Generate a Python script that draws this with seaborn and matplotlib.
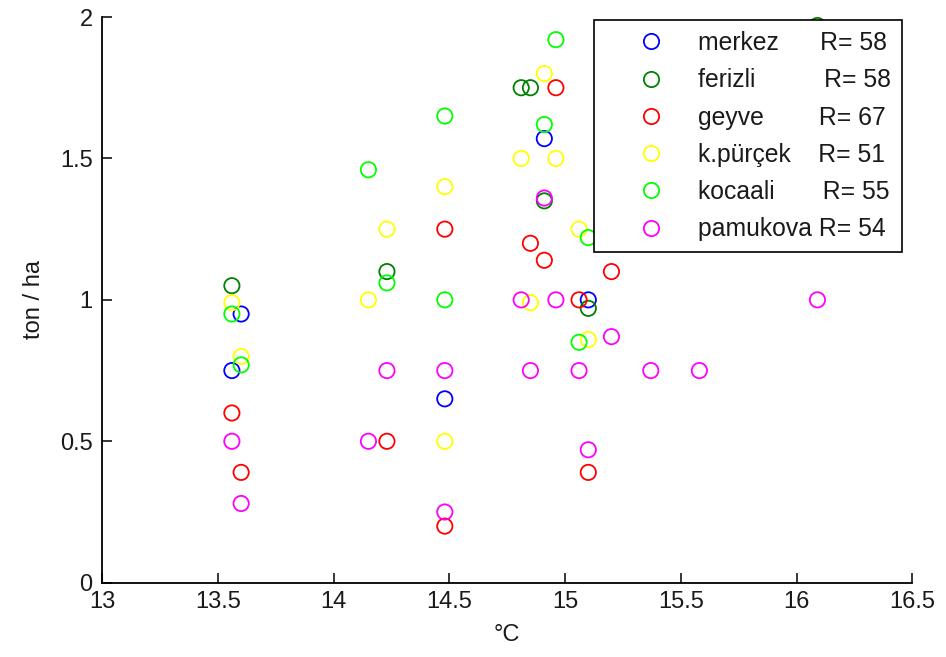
import matplotlib
matplotlib.use("Agg")
import matplotlib.pyplot as plt
from matplotlib.lines import Line2D
from matplotlib import font_manager
import numpy as np
import pandas as pd
import seaborn as sns

# Stations, their correlation coefficients and marker colours
stations = ["merkez", "ferizli", "geyve", "k.pürçek", "kocaali", "pamukova"]
r_values = [58, 58, 67, 51, 55, 54]
colors = ["#0000ff", "#008000", "#ff0000", "#ffff00", "#00ff00", "#ff00ff"]

# Mean temperature (°C) and yield (ton / ha) per station
merkez_temp = [13.6, 13.56, 14.48, 14.91, 15.1]
merkez_yield = [0.95, 0.75, 0.65, 1.57, 1.0]

ferizli_temp = [13.56, 14.23, 14.81, 14.85, 14.91, 15.1, 16.09]
ferizli_yield = [1.05, 1.1, 1.75, 1.75, 1.35, 0.97, 1.97]

geyve_temp = [13.56, 13.6, 14.23, 14.48, 14.48, 14.96, 14.85, 14.91, 15.2, 15.06, 15.1]
geyve_yield = [0.6, 0.39, 0.5, 1.25, 0.2, 1.75, 1.2, 1.14, 1.1, 1.0, 0.39]

kpurcek_temp = [13.56, 13.6, 14.15, 14.23, 14.48, 14.48, 14.91, 14.81, 14.96, 15.06, 14.85, 15.1]
kpurcek_yield = [0.99, 0.8, 1.0, 1.25, 1.4, 0.5, 1.8, 1.5, 1.5, 1.25, 0.99, 0.86]

kocaali_temp = [13.56, 13.6, 14.15, 14.23, 14.48, 14.48, 14.96, 14.91, 15.1, 15.06]
kocaali_yield = [0.95, 0.77, 1.46, 1.06, 1.65, 1.0, 1.92, 1.62, 1.22, 0.85]

pamukova_temp = [13.56, 13.6, 14.15, 14.23, 14.48, 14.48, 14.91, 14.81, 14.96, 14.85,
                 15.06, 15.2, 15.1, 15.37, 15.58, 16.09]
pamukova_yield = [0.5, 0.28, 0.5, 0.75, 0.75, 0.25, 1.36, 1.0, 1.0, 0.75,
                  0.75, 0.87, 0.47, 0.75, 0.75, 1.0]

x_ticks = [13, 13.5, 14, 14.5, 15, 15.5, 16, 16.5]
y_ticks = [0, 0.5, 1, 1.5, 2]

series = [
    (merkez_temp, merkez_yield),
    (ferizli_temp, ferizli_yield),
    (geyve_temp, geyve_yield),
    (kpurcek_temp, kpurcek_yield),
    (kocaali_temp, kocaali_yield),
    (pamukova_temp, pamukova_yield),
]

frames = []
for name, (t, y) in zip(stations, series):
    frames.append(pd.DataFrame({"temp": t, "yield": y, "station": name}))
df = pd.concat(frames, ignore_index=True)

sns.set_theme(style="white")
installed = {f.name for f in font_manager.fontManager.ttflist}
family = "Liberation Sans" if "Liberation Sans" in installed else "DejaVu Sans"
plt.rcParams["font.family"] = [family, "DejaVu Sans"]

FS = 17
LEG_FS = 17.8
ink = "#1a1a1a"

fig = plt.figure(figsize=(9.46, 6.57), dpi=100)
ax = fig.add_axes([0.1081, 0.1131, 0.8563, 0.8610])

palette = dict(zip(stations, colors))
sns.scatterplot(data=df, x="temp", y="yield", hue="station",
                hue_order=stations, palette=palette, marker="o",
                s=121, linewidth=1.3, legend=False, ax=ax, zorder=3)
# hollow circles: move the hue colours onto the edges
coll = ax.collections[0]
coll.set_edgecolors(coll.get_facecolors())
coll.set_facecolors("none")
coll.set_clip_on(False)

ax.set_xlim(13, 16.5)
ax.set_ylim(0, 2)
ax.set_xticks(x_ticks)
ax.set_xticklabels([f"{v:g}" for v in x_ticks])
ax.set_yticks(y_ticks)
ax.set_yticklabels([f"{v:g}" for v in y_ticks])

for side in ["top", "right"]:
    ax.spines[side].set_visible(False)
for side in ["left", "bottom"]:
    ax.spines[side].set_color("black")
    ax.spines[side].set_linewidth(1.3)

ax.tick_params(axis="both", direction="in", length=7, width=1.1,
               color="black", labelsize=FS, labelcolor=ink,
               bottom=True, left=True)
ax.tick_params(axis="x", pad=6)
ax.tick_params(axis="y", pad=7)

ax.set_xlabel("°C", fontsize=FS, color=ink, labelpad=8)
ax.set_ylabel("ton / ha", fontsize=FS, color=ink, labelpad=11)

# Legend labels: station name padded so the "R=" column lines up
fig.canvas.draw()
renderer = fig.canvas.get_renderer()


def text_width(s):
    t = ax.text(0, 0, s, fontsize=LEG_FS)
    w = t.get_window_extent(renderer).width
    t.remove()
    return w


target = 123.0
labels = []
for name, r in zip(stations, r_values):
    best, best_err = name + " ", 1e9
    for n in range(1, 40):
        cand = name + " " * n
        err = abs(text_width(cand) - target)
        if err < best_err:
            best, best_err = cand, err
    labels.append(f"{best}R= {r}")

handles = [Line2D([], [], marker="o", linestyle="none", markerfacecolor="none",
                  markeredgecolor=c, markersize=11, markeredgewidth=1.3)
           for c in colors]

leg = ax.legend(handles, labels, loc="upper left",
                bbox_to_anchor=(0.607, 0.9947), borderaxespad=0,
                fontsize=LEG_FS, frameon=True, fancybox=False, framealpha=1,
                borderpad=0.45, labelspacing=0.535, handlelength=3.72,
                handletextpad=0.02, numpoints=1)
leg.get_frame().set_edgecolor("black")
leg.get_frame().set_linewidth(1.2)
leg.set_zorder(5)
for t in leg.get_texts():
    t.set_color(ink)

fig.savefig("out.png", dpi=100, facecolor="white")
